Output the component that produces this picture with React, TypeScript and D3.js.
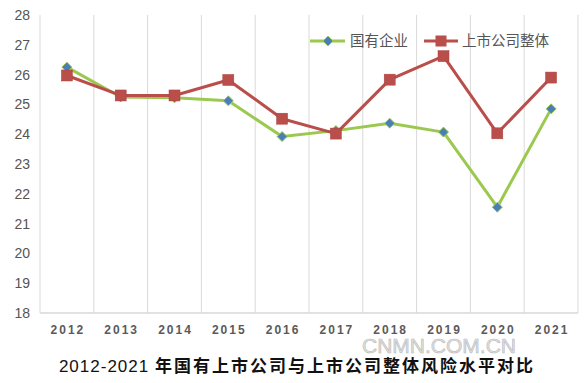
import React from "react";
import * as d3 from "d3";

const years = ["2012","2013","2014","2015","2016","2017","2018","2019","2020","2021"];
const soeValues = [26.25, 25.25, 25.22, 25.12, 23.92, 24.12, 24.37, 24.07, 21.55, 24.85];
const allValues = [25.97, 25.3, 25.3, 25.82, 24.52, 24.02, 25.83, 26.62, 24.03, 25.9];
const yTicks = [18, 19, 20, 21, 22, 23, 24, 25, 26, 27, 28];
const seriesNames = ["国有企业", "上市公司整体"];
const titleYears = "2012-2021";
const titleText = " 年国有上市公司与上市公司整体风险水平对比";

const W = 585, H = 383;
const left = 40, right = 578, top = 15, bottom = 313;

export default function App() {
  const x = d3.scaleBand<string>().domain(years).range([left, right]).padding(0);
  const y = d3.scaleLinear().domain([18, 28]).range([bottom, top]);
  const cx = (d: string) => (x(d) as number) + x.bandwidth() / 2;
  const line = d3.line<number>().x((_, i) => cx(years[i])).y((v) => y(v));
  const font = "'Noto Sans CJK SC', 'Noto Sans', sans-serif";
  const green = "#9BC84F";
  const red = "#BA4E4A";
  const blue = "#4A7FB5";
  const grid = "#d9d9d9";
  const bounds = years.map((d) => x(d) as number).concat([right]);
  return (
    <svg width={W} height={H} style={{ position: "absolute", left: 0, top: 0, background: "#fff" }} fontFamily={font}>
      {bounds.map((b, i) => (
        <line key={"g" + i} x1={b} x2={b} y1={top} y2={bottom} stroke={grid} strokeWidth={1} />
      ))}
      <line x1={left} x2={right} y1={bottom} y2={bottom} stroke={grid} strokeWidth={1.5} />
      {yTicks.map((t) => (
        <text key={"y" + t} x={30} y={y(t)} dy="0.35em" textAnchor="end" fontSize={14} fill="#555" fontFamily="'Liberation Sans', Arial, sans-serif">{t}</text>
      ))}
      {years.map((d) => (
        <text key={"x" + d} x={cx(d) + 1} y={330} dy="0.35em" textAnchor="middle" fontSize={12} fill="#5a5a5a" letterSpacing={2} fontWeight="bold" fontFamily="'Liberation Sans', Arial, sans-serif">{d}</text>
      ))}
      <path d={line(soeValues) || ""} fill="none" stroke={green} strokeWidth={3} strokeLinejoin="round" />
      <path d={line(allValues) || ""} fill="none" stroke={red} strokeWidth={3} strokeLinejoin="round" />
      {soeValues.map((v, i) => {
        const px = cx(years[i]), py = y(v);
        return <path key={"d" + i} d={`M${px},${py - 5}L${px + 5},${py}L${px},${py + 5}L${px - 5},${py}Z`} fill={blue} stroke={green} strokeWidth={1} />;
      })}
      {allValues.map((v, i) => {
        const px = cx(years[i]), py = y(v);
        return <rect key={"s" + i} x={px - 5.5} y={py - 5.5} width={11} height={11} fill={red} stroke="#a84440" strokeWidth={0.5} />;
      })}
      {/* legend */}
      <line x1={310} x2={345} y1={41} y2={41} stroke={green} strokeWidth={3} />
      <path d="M328,36L333,41L328,46L323,41Z" fill={blue} stroke={green} strokeWidth={1} />
      <text x={350} y={41} dy="0.35em" fontSize={14.5} fill="#555">{seriesNames[0]}</text>
      <line x1={424} x2={458} y1={41} y2={41} stroke={red} strokeWidth={3} />
      <rect x={435.5} y={35.5} width={11} height={11} fill={red} />
      <text x={462} y={41} dy="0.35em" fontSize={14.5} fill="#555">{seriesNames[1]}</text>
      <text x={439} y={345.5} dy="0.35em" textAnchor="middle" fontSize={21} fill="#e2e2e2" stroke="#b8b8b8" strokeWidth={0.6} fontFamily="'Liberation Sans', Arial, sans-serif">CNMN.COM.CN</text>
      <text x={297} y={366} dy="0.35em" textAnchor="middle" fontSize={17} fill="#111" letterSpacing={2}>
        <tspan fontFamily="'Liberation Sans', Arial, sans-serif" letterSpacing={1}>{titleYears}</tspan>
        <tspan fontWeight="bold">{titleText}</tspan>
      </text>
    </svg>
  );
}
